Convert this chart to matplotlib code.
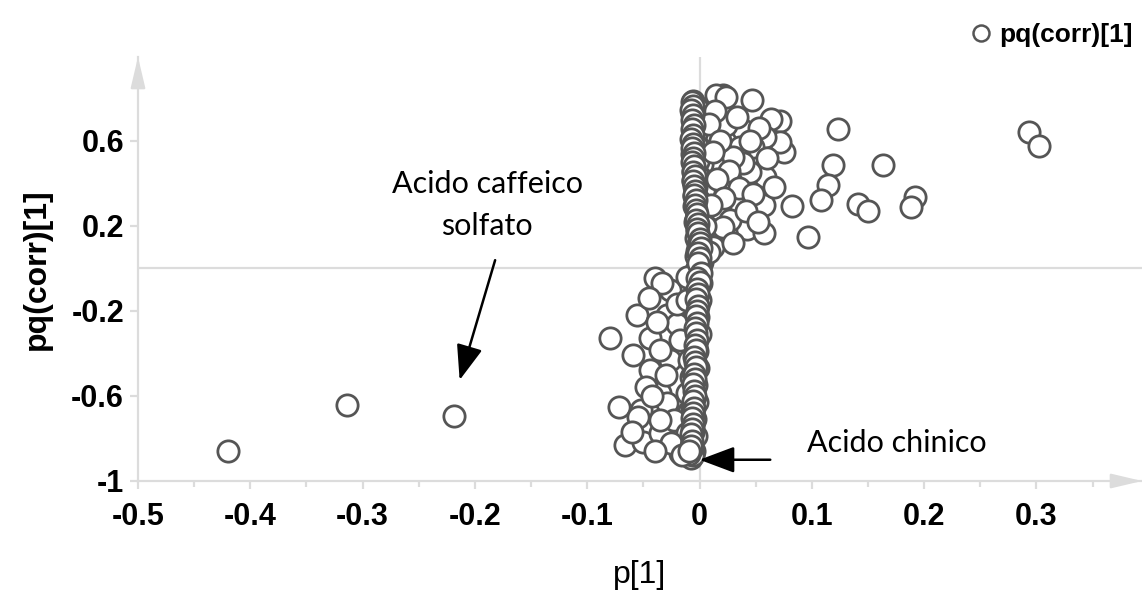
import numpy as np
import matplotlib.pyplot as plt
from matplotlib.lines import Line2D

# S-plot loadings
# far outliers
p_out = [-0.420, -0.314, -0.219, 0.293, 0.302]
pq_out = [-0.860, -0.643, -0.694, 0.642, 0.575]

# positive side, spread out
p_pos = [0.123, 0.119, 0.163, 0.114, 0.108, 0.141, 0.150, 0.192, 0.188, 0.097, 0.082,
         0.021, 0.015, 0.024, 0.047, 0.072, 0.064, 0.075, 0.072, 0.058, 0.039, 0.048,
         0.036, 0.024, 0.033, 0.058, 0.045, 0.039, 0.030, 0.057, 0.066, 0.030, 0.018,
         0.042, 0.057, 0.027, 0.021, 0.012, 0.000, 0.008,
         0.014, 0.008, 0.018, 0.012, 0.026, 0.016, 0.035, 0.048, 0.022, 0.041, 0.010,
         0.030, 0.005, 0.052, 0.060, 0.053, 0.045]
pq_pos = [0.658, 0.489, 0.486, 0.392, 0.321, 0.301, 0.269, 0.337, 0.287, 0.146, 0.293,
          0.815, 0.815, 0.807, 0.795, 0.696, 0.705, 0.548, 0.595, 0.619, 0.650, 0.572,
          0.572, 0.674, 0.713, 0.431, 0.454, 0.494, 0.525, 0.298, 0.384, 0.306, 0.274,
          0.188, 0.165, 0.227, 0.196, 0.102, 0.008, 0.078,
          0.740, 0.680, 0.600, 0.550, 0.460, 0.420, 0.380, 0.350, 0.330, 0.270, 0.300,
          0.120, 0.200, 0.220, 0.520, 0.660, 0.600]

# negative side, spread out
p_neg = [-0.080, -0.056, -0.059, -0.044, -0.044, -0.029, -0.026, -0.072, -0.052, -0.066,
         -0.050, -0.035, -0.017, -0.011, -0.003, -0.011, -0.020, -0.017, -0.026, -0.035,
         -0.029, -0.023, -0.035, -0.011, -0.009, -0.006, -0.011, -0.035, -0.020, -0.011,
         -0.040, -0.033, -0.045, -0.038, -0.048, -0.042, -0.055, -0.030, -0.025, -0.040,
         -0.060, -0.016]
pq_neg = [-0.329, -0.220, -0.408, -0.329, -0.478, -0.220, -0.102, -0.651, -0.666, -0.831,
          -0.815, -0.776, -0.870, -0.839, -0.008, -0.039, -0.259, -0.337, -0.431, -0.588,
          -0.635, -0.713, -0.713, -0.588, -0.431, -0.745, -0.776, -0.384, -0.165, -0.149,
          -0.045, -0.070, -0.140, -0.250, -0.560, -0.600, -0.700, -0.500, -0.820, -0.860,
          -0.770, -0.878]

# dense band near p = 0 (heavily overlapping circles)
p_band = [-0.004, 0.002, -0.006, 0.000, -0.003, 0.003, -0.005, 0.001, -0.004, 0.002,
          -0.006, 0.000, -0.003, 0.004, -0.005, 0.001, -0.002, 0.003, -0.004, 0.002,
          -0.001, 0.004, 0.000, -0.003, 0.002,
          -0.002, 0.001, -0.004, 0.000, -0.006, -0.001, -0.005, 0.000, -0.007, -0.002,
          -0.006, -0.001, -0.008, -0.003, -0.007, -0.002, -0.009, -0.004, -0.008, -0.003,
          -0.010, -0.005, -0.008, -0.006,
          -0.006, -0.002, -0.007, -0.001, -0.005, -0.003, -0.006, -0.002, -0.007, -0.001,
          -0.005, -0.002, -0.006, -0.003, -0.004, -0.001, -0.005, -0.002, -0.003, -0.001,
          -0.002, -0.003, -0.001, -0.002,
          -0.003, -0.001, -0.004, -0.002, -0.005, -0.003, -0.006, -0.004, -0.005, -0.003,
          -0.007, -0.004, -0.006, -0.005, -0.008, -0.005, -0.007, -0.006, -0.009, -0.006,
          -0.008, -0.007, -0.009]
pq_band = [0.77, 0.74, 0.71, 0.68, 0.65, 0.62, 0.59, 0.56, 0.52, 0.49,
           0.46, 0.43, 0.40, 0.37, 0.34, 0.31, 0.28, 0.25, 0.22, 0.19,
           0.16, 0.13, 0.10, 0.06, 0.03,
           -0.03, -0.07, -0.11, -0.15, -0.19, -0.23, -0.27, -0.31, -0.35, -0.39,
           -0.43, -0.47, -0.51, -0.55, -0.59, -0.63, -0.67, -0.71, -0.75, -0.79,
           -0.83, -0.86, -0.89, -0.88,
           0.79, 0.755, 0.725, 0.695, 0.665, 0.635, 0.605, 0.575, 0.54, 0.505,
           0.475, 0.445, 0.415, 0.385, 0.355, 0.325, 0.295, 0.265, 0.235, 0.205,
           0.175, 0.145, 0.115, 0.08,
           -0.01, -0.05, -0.09, -0.13, -0.17, -0.21, -0.25, -0.29, -0.33, -0.37,
           -0.41, -0.45, -0.49, -0.53, -0.57, -0.61, -0.65, -0.69, -0.73, -0.77,
           -0.81, -0.845, -0.875]

# inner core of the band, drawn on top so the stacked edges form a dark streak
p_core = [-0.007, -0.006, -0.008, -0.006, -0.007, -0.005, -0.007, -0.006, -0.008, -0.006,
          -0.007, -0.005, -0.006, -0.007, -0.005, -0.006, -0.004, -0.006, -0.005, -0.004,
          -0.005, -0.003, -0.004, -0.003, -0.002, -0.003, -0.001, -0.002, -0.001, 0.000,
          0.000, 0.001, -0.001, 0.000, -0.001, 0.001, -0.002, 0.000, -0.002, -0.001,
          -0.003, -0.001, -0.002, -0.003, -0.002, -0.004, -0.003, -0.002, -0.004, -0.003,
          -0.005, -0.004, -0.003, -0.005, -0.004, -0.006, -0.005, -0.004, -0.006, -0.005,
          -0.006, -0.007, -0.006, -0.007, -0.008, -0.007, -0.008, -0.009]
pq_core = [0.785, 0.765, 0.745, 0.72, 0.70, 0.675, 0.655, 0.63, 0.61, 0.585,
           0.565, 0.545, 0.52, 0.50, 0.48, 0.455, 0.435, 0.41, 0.39, 0.365,
           0.345, 0.32, 0.30, 0.275, 0.255, 0.23, 0.21, 0.185, 0.165, 0.14,
           0.12, 0.095, 0.075, 0.05, 0.025, -0.02, -0.045, -0.065, -0.095, -0.12,
           -0.145, -0.175, -0.20, -0.225, -0.255, -0.28, -0.305, -0.335, -0.36, -0.385,
           -0.415, -0.44, -0.465, -0.495, -0.52, -0.545, -0.575, -0.60, -0.625, -0.655,
           -0.68, -0.705, -0.73, -0.755, -0.78, -0.81, -0.835, -0.86]

x_ticks = [-0.5, -0.4, -0.3, -0.2, -0.1, 0, 0.1, 0.2, 0.3]
x_ticklabels = ['-0.5', '-0.4', '-0.3', '-0.2', '-0.1', '0', '0.1', '0.2', '0.3']
x_minor = [-0.45, -0.35, -0.25, -0.15, -0.05, 0.05, 0.15, 0.25, 0.35]
y_ticks = [-1, -0.6, -0.2, 0.2, 0.6]
y_ticklabels = ['-1', '-0.6', '-0.2', '0.2', '0.6']

p = np.array(p_band + p_neg + p_pos + p_out + p_core)
pq = np.array(pq_band + pq_neg + pq_pos + pq_out + pq_core)

grey = '#dcdcdc'
ring = '#555555'
plt.rcParams['font.family'] = ['Liberation Sans', 'DejaVu Sans']

fig = plt.figure(figsize=(11.42, 5.94), dpi=100)
ax = fig.add_axes([138 / 1142, 113 / 594, 1004 / 1142, 424 / 594])

ax.axhline(0, color=grey, lw=1.6, zorder=1)
ax.axvline(0, color=grey, lw=1.6, zorder=1)
ax.scatter(p, pq, s=235, facecolors='white', edgecolors=ring, linewidths=2.0, zorder=3)

ax.set_xlim(-0.5, 0.394)
ax.set_ylim(-1, 0.995)

for s in ['top', 'right']:
    ax.spines[s].set_visible(False)
for s in ['left', 'bottom']:
    ax.spines[s].set_color(grey)
    ax.spines[s].set_linewidth(1.6)

# arrow heads at the ends of the axes
head = dict(arrowstyle='-|>,head_length=1.9,head_width=0.45', color=grey, lw=1.6,
            mutation_scale=10, shrinkA=0, shrinkB=0)
ax.annotate('', xy=(1, 0), xytext=(0.97, 0), xycoords='axes fraction', arrowprops=head)
ax.annotate('', xy=(0, 1), xytext=(0, 0.95), xycoords='axes fraction', arrowprops=head)

ax.set_xticks(x_ticks)
ax.set_xticklabels(x_ticklabels)
ax.set_xticks(x_minor, minor=True)
ax.set_yticks(y_ticks)
ax.set_yticklabels(y_ticklabels)
ax.tick_params(axis='both', which='major', color=grey, width=1.6, length=6,
               labelsize=22, pad=4)
ax.tick_params(axis='x', which='major', pad=9)
ax.tick_params(axis='x', which='minor', color=grey, width=1.6, length=4)
for lab in ax.get_xticklabels() + ax.get_yticklabels():
    lab.set_fontweight('bold')

ax.set_xlabel('p[1]', fontsize=23, labelpad=20)
ax.set_ylabel('pq(corr)[1]', fontsize=23, fontweight='bold', labelpad=14)

# annotations
note_font = ['Lato', 'DejaVu Sans']
arrow_kw = dict(arrowstyle='-|>,head_length=1.2,head_width=0.45', color='black',
                lw=1.8, mutation_scale=18, shrinkA=0, shrinkB=0)
ax.annotate('', xy=(-0.2136, -0.525), xytext=(-0.182, 0.039), arrowprops=arrow_kw)
ax.text(-0.189, 0.30, 'Acido caffeico\nsolfato', ha='center', va='center',
        multialignment='center', fontsize=22, family=note_font, linespacing=1.6)
ax.annotate('', xy=(0.0, -0.90), xytext=(0.063, -0.90), arrowprops=arrow_kw)
ax.text(0.176, -0.82, 'Acido chinico', ha='center', va='center',
        fontsize=22, family=note_font)

handle = Line2D([], [], ls='none', marker='o', markersize=11.5, markerfacecolor='white',
                markeredgecolor=ring, markeredgewidth=1.8)
fig.legend([handle], ['pq(corr)[1]'], loc='center right',
           bbox_to_anchor=(1133 / 1142, 1 - 35 / 594), frameon=False,
           prop=dict(size=19, weight='bold'), handletextpad=0.2, borderpad=0,
           borderaxespad=0, handlelength=1.0)

plt.savefig('out.png', dpi=100)
